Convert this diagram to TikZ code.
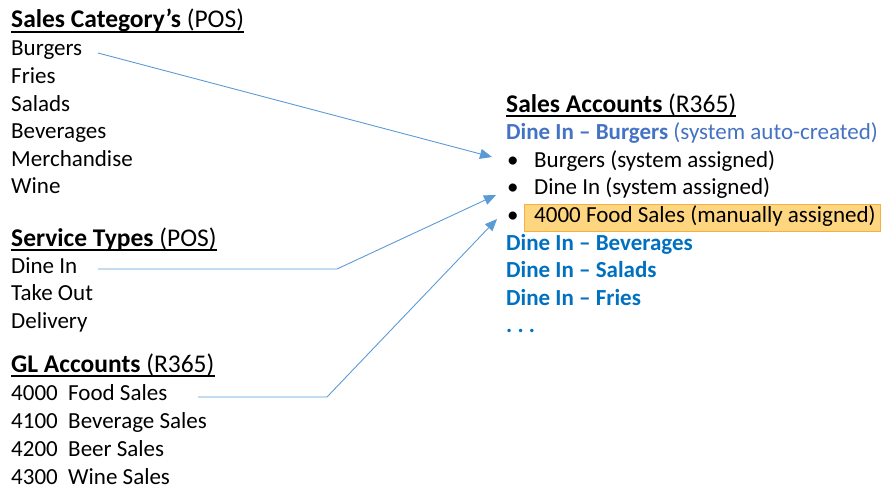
\documentclass[tikz,border=0pt]{standalone}
\usepackage{fontspec}
\setmainfont{Carlito}
\usetikzlibrary{arrows.meta}
\definecolor{arrowblue}{RGB}{91,155,213}
\definecolor{lightblue}{RGB}{68,114,196}
\definecolor{darkblue}{RGB}{0,112,192}
\definecolor{hlfill}{RGB}{255,214,128}
\definecolor{hlborder}{RGB}{244,177,67}
\tikzset{
  txt/.style={anchor=base west, inner sep=0pt, font=\fontsize{23}{27}\selectfont},
  hdr/.style={anchor=base west, inner sep=0pt, font=\fontsize{25.5}{30}\selectfont},
  uline/.style={line width=1.4pt},
  conn/.style={draw=arrowblue, line width=0.9pt, -{Triangle[length=12pt,width=10pt]}},
}
\begin{document}
\begin{tikzpicture}[x=1pt,y=-1pt]
\useasboundingbox (0,0) rectangle (890,492);
% left column: sales categories
\node[hdr] (h1) at (11,28) {\textbf{Sales Category’s} (POS)};
\draw[uline] ([yshift=-4pt]h1.base west) -- ([yshift=-4pt]h1.base east);
\node[txt] (burgers) at (11,56) {Burgers};
\node[txt] (fries) at (11,83.5) {Fries};
\node[txt] (salads) at (11,111) {Salads};
\node[txt] (bev) at (11,138.5) {Beverages};
\node[txt] (merch) at (11,166) {Merchandise};
\node[txt] (wine) at (11,193.5) {Wine};
% service types
\node[hdr] (h2) at (11,246) {\textbf{Service Types} (POS)};
\draw[uline] ([yshift=-4pt]h2.base west) -- ([yshift=-4pt]h2.base east);
\node[txt] (dinein) at (11,273) {Dine In};
\node[txt] (takeout) at (11,300.5) {Take Out};
\node[txt] (delivery) at (11,328) {Delivery};
% GL accounts
\node[hdr] (h3) at (11,372) {\textbf{GL Accounts} (R365)};
\draw[uline] ([yshift=-4pt]h3.base west) -- ([yshift=-4pt]h3.base east);
\node[txt] (gl4000) at (11,400) {4000\ \ Food Sales};
\node[txt] (gl4100) at (11,428) {4100\ \ Beverage Sales};
\node[txt] (gl4200) at (11,456) {4200\ \ Beer Sales};
\node[txt] (gl4300) at (11,484) {4300\ \ Wine Sales};
% right column
\node[hdr] (h4) at (506,112) {\textbf{Sales Accounts} (R365)};
\draw[uline] ([yshift=-4pt]h4.base west) -- ([yshift=-4pt]h4.base east);
\node[txt, text=lightblue] (acc1) at (506,139) {\textbf{Dine In – Burgers} (system auto-created)};
\node[txt] (b1) at (507,167) {•};
\node[txt] (b1t) at (534,167) {Burgers (system assigned)};
\node[txt] (b2) at (507,194.5) {•};
\node[txt] (b2t) at (534,194.5) {Dine In (system assigned)};
\node[draw=hlborder, fill=hlfill, line width=0.8pt, anchor=north west, minimum width=356pt, minimum height=27pt, inner sep=0pt] (hl) at (524,204) {};
\node[txt] (b3) at (507,222) {•};
\node[txt] (b3t) at (534,222) {4000 Food Sales (manually assigned)};
\node[txt, text=darkblue] (acc2) at (506,250) {\textbf{Dine In – Beverages}};
\node[txt, text=darkblue] (acc3) at (506,277.5) {\textbf{Dine In – Salads}};
\node[txt, text=darkblue] (acc4) at (506,305) {\textbf{Dine In – Fries}};
\node[txt, text=darkblue] (acc5) at (506,332) {\textbf{.\ .\ .}};
% connectors
\coordinate (s1) at (98,53);
\coordinate (t1) at (492,157);
\coordinate (s2) at (98,269);
\coordinate (k2) at (337,269);
\coordinate (t2) at (496,195);
\coordinate (s3) at (198,397);
\coordinate (k3) at (327,397);
\coordinate (t3) at (497,219);
\draw[conn] (s1) -- (t1);
\draw[conn] (s2) -- (k2) -- (t2);
\draw[conn] (s3) -- (k3) -- (t3);
\end{tikzpicture}
\end{document}
